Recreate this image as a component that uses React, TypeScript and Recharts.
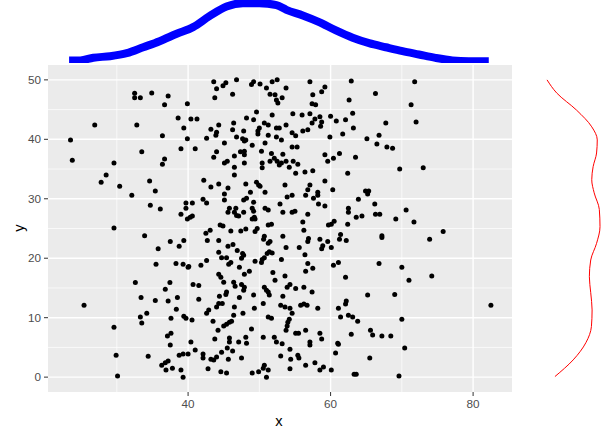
import React from 'react'
import {
  ScatterChart,
  Scatter,
  LineChart,
  Line,
  XAxis,
  YAxis,
  CartesianGrid,
} from 'recharts'

// --- data ---
// points, grouped by the region of the panel they sit in: [x, y]
const upperLeft: [number, number][] = [
  [32.5, 47.75], [32.5, 47.0], [33.3, 47.0], [34.9, 47.8], [37.2, 47.3], [36.7, 45.8], [39.9, 46.0],
  [26.9, 42.4], [32.8, 42.4], [38.6, 43.6], [40.4, 43.4], [41.25, 43.4], [39.4, 41.9], [36.4, 40.6],
  [39.9, 40.1], [42.6, 40.2], [23.5, 39.9], [39.0, 38.4], [41.0, 38.4], [33.5, 37.9], [23.75, 36.5],
  [29.6, 36.0], [36.7, 36.7], [36.4, 35.8], [28.5, 34.0], [27.8, 32.8], [30.4, 32.1], [34.6, 33.0],
  [35.4, 31.3], [32.1, 30.6], [42.2, 33.1], [34.7, 28.9], [36.1, 28.3], [39.7, 29.3], [39.7, 28.4],
  [40.6, 29.3], [42.1, 29.9], [42.6, 29.3], [39.0, 27.4], [39.9, 26.6], [40.3, 26.9], [40.6, 27.1],
  [29.6, 25.1],
]

const upperMiddle: [number, number][] = [
  [43.6, 49.7], [44.0, 48.5], [44.9, 49.0], [45.3, 49.5], [43.75, 47.0], [46.8, 50.0], [46.25, 47.6],
  [48.9, 49.2], [49.2, 49.7], [50.1, 49.3], [51.0, 48.65], [51.8, 49.7], [52.5, 50.0], [51.5, 47.6],
  [52.2, 47.5], [52.4, 46.6], [52.6, 46.1], [53.2, 47.0], [53.75, 48.65], [57.1, 49.7], [57.5, 47.5],
  [58.75, 48.0], [59.2, 48.8], [57.4, 46.0], [57.9, 45.8], [62.9, 49.8], [62.6, 46.6],
  [49.6, 44.6], [48.2, 43.6], [49.2, 43.3], [51.8, 44.1], [54.7, 44.3], [56.0, 44.1], [57.1, 44.3],
  [57.8, 43.4], [58.5, 43.8], [58.75, 42.9], [58.6, 42.2], [57.4, 42.75], [56.8, 41.6], [56.1, 41.4],
  [60.0, 43.9], [60.8, 43.1], [62.1, 43.3], [63.1, 44.4], [63.2, 41.9], [61.7, 40.9], [59.9, 40.4],
  [46.4, 42.75], [44.3, 42.4], [43.2, 41.7], [44.0, 41.2], [43.9, 40.7], [46.25, 41.6], [47.8, 41.4],
  [46.8, 40.4], [47.65, 40.1], [48.1, 39.9], [47.9, 39.7], [49.8, 41.4], [50.0, 41.9], [50.7, 42.75],
  [51.25, 42.4], [49.8, 40.9], [51.25, 40.7], [52.4, 41.9], [52.8, 41.9], [53.75, 42.4], [52.4, 40.4],
  [53.1, 39.9], [54.6, 41.1], [55.1, 40.6], [45.1, 39.4], [49.0, 39.0], [50.8, 39.4],
  [44.0, 37.9], [43.6, 37.0], [45.1, 36.0], [45.5, 36.3], [46.5, 37.2], [46.5, 35.3], [46.5, 34.0],
  [47.35, 37.9], [47.9, 37.4], [47.9, 38.0], [47.9, 36.0], [50.3, 38.0], [50.4, 36.0], [50.4, 35.2],
  [51.7, 37.6], [51.5, 36.3], [52.1, 36.8], [52.5, 36.3], [52.8, 35.7], [53.1, 36.0], [53.3, 37.5],
  [53.75, 36.3], [54.6, 38.7], [55.3, 38.7], [54.2, 35.3], [54.75, 36.3], [55.4, 35.8], [55.1, 34.3],
  [56.4, 34.5], [57.5, 34.7], [59.2, 37.4], [59.6, 36.3], [60.4, 36.8], [61.25, 37.6], [63.5, 37.0],
  [62.4, 34.3],
  [43.2, 32.0], [44.3, 32.5], [45.6, 31.8], [45.1, 30.8], [45.1, 29.8], [48.1, 32.5], [49.6, 32.8],
  [49.9, 32.3], [50.1, 32.1], [48.75, 31.1], [50.8, 31.1], [53.6, 32.3], [47.8, 29.8], [48.2, 30.1],
  [49.2, 29.4], [52.9, 29.1], [53.9, 30.3], [54.6, 30.6], [56.5, 30.6], [56.8, 31.5], [57.1, 32.3],
  [57.6, 30.1], [58.2, 31.1], [58.2, 30.6], [58.3, 29.1], [59.2, 28.8], [59.2, 33.0], [60.3, 31.5],
  [63.9, 29.9],
  [45.6, 27.75], [45.8, 28.4], [46.7, 28.4], [46.5, 27.75], [46.8, 27.2], [47.1, 27.1], [47.8, 27.75],
  [49.0, 28.4], [49.2, 27.9], [49.3, 26.9], [49.0, 26.6], [49.4, 26.6], [50.8, 28.4], [51.25, 28.1],
  [53.3, 27.75], [54.6, 27.75], [55.0, 27.9], [56.8, 27.4], [56.1, 26.1], [59.7, 25.6], [60.1, 25.7],
  [60.5, 26.2], [62.4, 25.7], [62.5, 28.4], [62.5, 27.75], [63.6, 26.9], [44.5, 25.6], [44.9, 25.4],
  [43.1, 24.7], [46.0, 24.6], [47.4, 24.6], [48.1, 24.9], [51.25, 25.6], [51.7, 25.7], [56.25, 24.7],
]

const upperRight: [number, number][] = [
  [71.8, 49.7], [66.3, 47.7], [71.3, 45.8], [67.75, 42.75], [72.0, 42.9], [66.8, 40.7], [65.1, 40.1],
  [66.5, 39.2], [67.9, 38.7], [68.7, 38.5], [69.7, 35.0], [73.0, 35.2], [64.9, 31.3], [65.35, 31.3],
  [65.2, 30.8], [66.2, 29.1], [70.6, 28.1], [64.4, 27.1], [66.3, 27.4], [66.9, 27.4], [69.15, 26.6],
  [71.7, 26.1], [75.8, 24.5],
]

const lowerLeft: [number, number][] = [
  [33.9, 23.8], [37.5, 22.8], [39.4, 23.0], [38.75, 22.0], [35.8, 21.6], [42.5, 24.2], [42.7, 23.0],
  [35.5, 19.0], [38.3, 19.1], [39.3, 19.0], [40.0, 18.5], [40.1, 18.6], [41.8, 18.8], [42.6, 19.6],
  [32.6, 15.9], [37.45, 15.9], [36.8, 14.8], [40.7, 15.6], [41.5, 15.4], [25.4, 12.1], [33.4, 13.4],
  [35.4, 12.9], [37.2, 12.8], [38.5, 13.4], [41.5, 13.1], [38.35, 11.4], [34.2, 10.75], [33.3, 10.1],
  [33.5, 9.1], [37.6, 9.9], [39.4, 10.25], [39.7, 9.9], [40.55, 9.6], [42.6, 10.75], [29.6, 8.4],
  [37.1, 6.9], [37.6, 7.4], [37.5, 5.4], [40.4, 5.9], [41.0, 4.55], [29.9, 3.7], [34.4, 3.5],
  [38.75, 3.7], [39.3, 3.9], [40.0, 3.9], [42.1, 3.9], [42.1, 3.2], [37.2, 2.7], [36.8, 2.4],
  [36.3, 2.0], [37.8, 1.5], [36.9, 1.2], [39.0, 1.2], [39.3, 0.0], [42.8, 1.4], [30.1, 0.2],
]

const lowerMiddle: [number, number][] = [
  [49.4, 24.5], [49.7, 25.0], [50.6, 23.2], [50.7, 23.7], [51.25, 22.5], [51.5, 22.8], [53.3, 23.7],
  [53.75, 21.8], [55.6, 21.8], [56.8, 22.8], [56.9, 23.3], [58.5, 23.2], [58.75, 21.6], [58.9, 22.1],
  [59.6, 22.8], [60.1, 21.8], [61.25, 23.2], [61.4, 24.0], [62.2, 23.0], [44.3, 23.0], [45.6, 22.0],
  [46.3, 22.3], [46.9, 21.3], [44.3, 21.0], [44.7, 20.1], [45.4, 20.1], [46.0, 19.3], [45.7, 19.0],
  [47.5, 20.0], [47.8, 20.5], [47.65, 20.8], [49.4, 19.5], [50.3, 19.3], [50.4, 19.8], [50.7, 20.1],
  [51.1, 20.8], [51.4, 21.1], [51.8, 20.9], [53.1, 19.8], [47.2, 18.5], [47.9, 17.3], [48.6, 17.8],
  [51.9, 17.6], [52.2, 16.3], [53.6, 17.0], [56.4, 20.6], [56.8, 19.1], [56.5, 17.8], [57.5, 18.3],
  [60.4, 18.8], [61.1, 19.3], [62.1, 16.8],
  [44.3, 17.3], [44.6, 16.8], [45.0, 15.95], [46.4, 15.95], [46.6, 15.3], [47.5, 15.6], [47.9, 15.1],
  [47.8, 14.6], [45.4, 14.3], [45.3, 13.9], [44.4, 13.6], [47.2, 13.4], [49.2, 13.8], [50.7, 15.1],
  [51.0, 14.6], [51.25, 14.3], [51.4, 13.8], [50.55, 12.4], [49.3, 11.6], [53.9, 15.1], [54.3, 15.6],
  [55.1, 14.9], [56.25, 15.1], [57.4, 14.3], [53.3, 13.6], [53.0, 12.1], [53.6, 11.8], [54.3, 11.6],
  [54.6, 10.75], [55.8, 12.1], [56.25, 12.3], [56.7, 12.1], [58.2, 11.6], [61.1, 11.6], [62.1, 12.3],
  [62.2, 12.8], [62.5, 10.4], [63.1, 10.1], [61.4, 10.1], [44.0, 11.8], [44.3, 12.4], [44.8, 12.4],
  [46.5, 11.8], [42.9, 11.3], [47.7, 10.75], [46.4, 10.4], [51.25, 10.1], [51.7, 9.9],
  [43.5, 9.4], [45.0, 8.6], [45.4, 8.9], [45.8, 9.25], [46.1, 9.4], [44.2, 7.9], [43.75, 6.4],
  [45.8, 6.6], [45.8, 5.9], [47.1, 5.9], [48.2, 5.7], [48.1, 6.7], [48.9, 8.1], [50.55, 6.7],
  [52.1, 6.7], [52.4, 5.9], [53.2, 5.6], [54.3, 4.7], [53.75, 7.9], [53.9, 8.6], [54.0, 9.25],
  [54.2, 9.75], [55.1, 7.4], [55.5, 7.4], [56.5, 7.9], [57.1, 5.9], [57.1, 5.4], [58.5, 7.4],
  [58.75, 6.4], [61.0, 5.7], [61.1, 5.55], [62.9, 7.2], [60.7, 4.05], [53.0, 3.55], [54.4, 3.0],
  [55.4, 3.7], [55.55, 3.2], [56.5, 2.0], [57.8, 2.4], [58.5, 1.2], [59.0, 1.7], [60.1, 1.2],
  [63.3, 0.5], [63.6, 0.5], [43.2, 3.0], [43.6, 2.9], [44.0, 3.4], [44.7, 4.2], [45.5, 4.9],
  [46.25, 4.4], [45.65, 3.0], [47.5, 3.2], [44.6, 0.9], [45.4, 0.7], [49.0, 0.7], [49.9, 0.9],
  [50.55, 1.5], [50.7, 2.0], [51.25, 1.2], [51.0, 0.0], [54.3, 1.4],
]

const lowerRight: [number, number][] = [
  [67.2, 23.8], [67.2, 23.5], [73.9, 23.2], [66.8, 19.1], [70.0, 18.5], [74.2, 17.0], [71.0, 16.3],
  [65.2, 13.8], [69.0, 13.9], [82.5, 12.1], [63.8, 9.4], [70.0, 9.75], [65.6, 7.9], [65.9, 7.1],
  [67.2, 6.9], [68.45, 6.9], [70.4, 4.9], [65.5, 3.2], [69.6, 0.2],
]

// marginal density of x (top)
const densityX = [23.3, 24.85, 26.7, 29.05, 31.4, 33.7, 36.0, 38.4, 40.7, 43.0, 45.4, 47.7, 50.0, 52.4, 53.8, 56.1, 58.4, 60.75, 63.1, 65.4, 67.75, 70.1, 72.4, 74.7, 77.1, 79.4, 82.2]
const densityXValues = [0.0017, 0.0017, 0.0035, 0.0045, 0.0065, 0.0104, 0.0144, 0.0193, 0.0237, 0.0309, 0.0373, 0.0395, 0.0395, 0.0382, 0.0351, 0.0314, 0.027, 0.0215, 0.0167, 0.0131, 0.0104, 0.0078, 0.0056, 0.0034, 0.0017, 0.0012, 0.0012]

// marginal density of y (right)
const densityY = [0.1, 2.9, 5.8, 8.5, 11.3, 14.2, 16.9, 19.7, 22.5, 25.3, 28.2, 31.0, 33.2, 35.4, 37.7, 39.9, 42.1, 44.9, 47.8, 50.0]
const densityYValues = [0.0119, 0.0172, 0.0209, 0.0225, 0.0227, 0.0223, 0.0219, 0.0223, 0.024, 0.025, 0.0248, 0.0233, 0.0226, 0.023, 0.024, 0.0242, 0.0226, 0.0182, 0.0124, 0.0096]

const xTicks = [40, 60, 80]
const xMinor = [30, 50, 70]
const yTicks = [0, 10, 20, 30, 40, 50]
const yMinor = [5, 15, 25, 35, 45]

const X_DOMAIN: [number, number] = [20.34, 85.46]
const Y_DOMAIN: [number, number] = [-2.5, 52.5]

const points = [...upperLeft, ...upperMiddle, ...upperRight, ...lowerLeft, ...lowerMiddle, ...lowerRight].map(
  ([x, y]) => ({ x, y })
)
const topDensity = densityX.map((x, i) => ({ x, d: densityXValues[i] }))
const rightDensity = densityY.map((y, i) => ({ y, d: densityYValues[i] }))

const FONT = '"Liberation Sans", Arial, sans-serif'
const tickStyle = { fill: '#4D4D4D', fontSize: 11.7, fontFamily: FONT }

const Dot = (props: any) => <circle cx={props.cx} cy={props.cy} r={2.5} fill="#000000" />

export default function App() {
  return (
    <div style={{ position: 'absolute', left: 0, top: 0, width: 605, height: 439, background: '#fff', fontFamily: FONT }}>
      {/* top marginal density */}
      <div style={{ position: 'absolute', left: 0, top: 0 }}>
        <LineChart width={605} height={63} data={topDensity} margin={{ top: 0, right: 93, bottom: 0, left: 48 }}>
          <XAxis hide type="number" dataKey="x" domain={X_DOMAIN} allowDataOverflow />
          <YAxis hide type="number" domain={[0, 0.0416]} allowDataOverflow />
          <Line type="monotone" dataKey="d" stroke="#0000FF" strokeWidth={8} dot={false} isAnimationActive={false} />
        </LineChart>
      </div>

      {/* main scatter */}
      <div style={{ position: 'absolute', left: 0, top: 0 }}>
        <ScatterChart width={605} height={439} margin={{ top: 65, right: 93, bottom: 0, left: 0 }}>
          <CartesianGrid
            fill="#EBEBEB"
            stroke="#FFFFFF"
            strokeWidth={0.7}
            verticalValues={xMinor}
            horizontalValues={yMinor}
          />
          <CartesianGrid stroke="#FFFFFF" strokeWidth={1.4} verticalValues={xTicks} horizontalValues={yTicks} />
          <XAxis
            type="number"
            dataKey="x"
            domain={X_DOMAIN}
            allowDataOverflow
            ticks={xTicks}
            height={47}
            axisLine={false}
            tickLine={{ stroke: '#333333' }}
            tickSize={4}
            tickMargin={4}
            tick={tickStyle}
          />
          <YAxis
            type="number"
            dataKey="y"
            domain={Y_DOMAIN}
            allowDataOverflow
            ticks={yTicks}
            width={48}
            axisLine={false}
            tickLine={{ stroke: '#333333' }}
            tickSize={4}
            tickMargin={3}
            tick={tickStyle}
          />
          <Scatter data={points} shape={Dot} isAnimationActive={false} />
        </ScatterChart>
      </div>

      {/* right marginal density */}
      <div style={{ position: 'absolute', left: 514, top: 0 }}>
        <LineChart width={91} height={439} layout="vertical" data={rightDensity} margin={{ top: 65, right: 0, bottom: 47, left: 0 }}>
          <XAxis hide type="number" dataKey="d" domain={[0, 0.02645]} allowDataOverflow />
          <YAxis hide reversed type="number" dataKey="y" domain={Y_DOMAIN} allowDataOverflow />
          <Line type="monotone" dataKey="d" stroke="#FF0000" strokeWidth={1} dot={false} isAnimationActive={false} />
        </LineChart>
      </div>

      {/* axis titles */}
      <div style={{ position: 'absolute', left: 272, top: 413, width: 14, textAlign: 'center', fontSize: 14.7, color: '#000' }}>x</div>
      <div
        style={{
          position: 'absolute',
          left: 12,
          top: 220,
          width: 14,
          textAlign: 'center',
          fontSize: 14.7,
          color: '#000',
          transform: 'rotate(-90deg)',
        }}
      >
        y
      </div>
    </div>
  )
}
